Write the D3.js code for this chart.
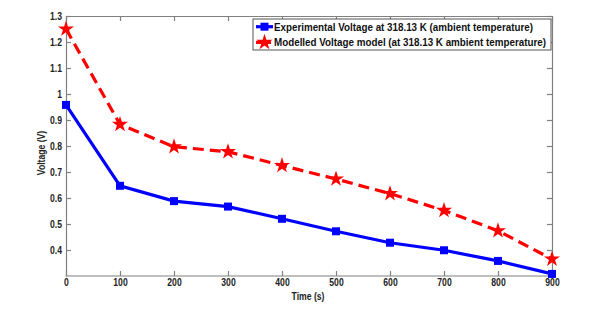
<!DOCTYPE html>
<html><head><meta charset="utf-8">
<script src="https://cdn.jsdelivr.net/npm/d3@7"></script>
<style>body{margin:0;background:#fff}svg{display:block}text{font-family:"Liberation Sans",Arial,sans-serif}</style>
</head><body><svg id="c" width="601" height="319"></svg>
<script>
const times = [0,100,200,300,400,500,600,700,800,900];
const experimental = [0.958,0.647,0.588,0.567,0.520,0.472,0.428,0.399,0.358,0.308];
const modelled = [1.25,0.883,0.797,0.778,0.725,0.673,0.617,0.552,0.474,0.365];
const xTicks = [0,100,200,300,400,500,600,700,800,900];
const yTicks = [0.4,0.5,0.6,0.7,0.8,0.9,1,1.1,1.2,1.3];
const seriesNames = ["Experimental Voltage at 318.13 K (ambient temperature)","Modelled Voltage model (at 318.13 K ambient temperature)"];

const svg = d3.select("#c");
const L=66,R=552,T=16,B=276;
const x = d3.scaleLinear().domain([0,900]).range([L,R]);
const y = d3.scaleLinear().domain([0.3,1.3]).range([B,T]);
const axisCol="#808080";
const FS="10.5px";

const g = svg.append("g");
const xb = g.append("g").attr("transform",`translate(0,${B})`).call(d3.axisBottom(x).tickValues(xTicks).tickSizeInner(-5).tickSizeOuter(0).tickPadding(3));
const xt = g.append("g").attr("transform",`translate(0,${T})`).call(d3.axisTop(x).tickValues(xTicks).tickSizeInner(-5).tickSizeOuter(0).tickFormat(""));
const yl = g.append("g").attr("transform",`translate(${L},0)`).call(d3.axisLeft(y).tickValues(yTicks).tickSizeInner(-5).tickSizeOuter(0).tickPadding(4).tickFormat(d=>d3.format("")(+d.toFixed(1))));
const yr = g.append("g").attr("transform",`translate(${R},0)`).call(d3.axisRight(y).tickValues(yTicks).tickSizeInner(-5).tickSizeOuter(0).tickFormat(""));
[xb,xt,yl,yr].forEach(a=>{a.selectAll("path,line").attr("stroke",axisCol).attr("stroke-width",1.2);
  a.selectAll("text").attr("fill","#222").attr("font-size",FS).attr("font-weight","bold").attr("class","cond");});
xb.select(".domain").attr("d",`M${L},0H${R}`);

const line = (vals)=>d3.line().x((d,i)=>x(times[i])).y(d=>y(d))(vals);
const plot = g.append("g");
plot.append("path").attr("d",line(modelled)).attr("fill","none").attr("stroke","#ff0000").attr("stroke-width",3.2).attr("stroke-dasharray","11,6");
plot.append("path").attr("d",line(experimental)).attr("fill","none").attr("stroke","#0000ff").attr("stroke-width",3.2);
const star = d3.symbol().type(d3.symbolStar).size(80);
plot.selectAll(".st").data(modelled).join("path").attr("d",star).attr("transform",(d,i)=>`translate(${x(times[i])},${y(d)})`).attr("fill","#ff0000");
plot.selectAll(".sq").data(experimental).join("rect").attr("x",(d,i)=>x(times[i])-4).attr("y",d=>y(d)-4).attr("width",8).attr("height",8).attr("fill","#0000ff");

svg.append("text").attr("class","cond").attr("x",308).attr("y",300).attr("text-anchor","middle").attr("font-size",FS).attr("font-weight","bold").attr("fill","#222").text("Time (s)");
svg.append("text").attr("class","cond").attr("transform","translate(45,153) rotate(-90)").attr("text-anchor","middle").attr("font-size",FS).attr("font-weight","bold").attr("fill","#222").text("Voltage (V)");

const lg = svg.append("g");
lg.append("rect").attr("x",253).attr("y",19).attr("width",298).attr("height",31).attr("fill","#fff").attr("stroke","#555").attr("stroke-width",1);
const rows=[26.7,42.3];
lg.append("line").attr("x1",256).attr("x2",273).attr("y1",rows[0]).attr("y2",rows[0]).attr("stroke","#0000ff").attr("stroke-width",3.2);
lg.append("rect").attr("x",260.5).attr("y",rows[0]-4).attr("width",8).attr("height",8).attr("fill","#0000ff");
lg.append("line").attr("x1",256).attr("x2",273).attr("y1",rows[1]).attr("y2",rows[1]).attr("stroke","#ff0000").attr("stroke-width",3.2).attr("stroke-dasharray","6,3");
lg.append("path").attr("d",star).attr("transform",`translate(264.5,${rows[1]})`).attr("fill","#ff0000");
const legW=[259,272];
seriesNames.forEach((s,i)=>lg.append("text").attr("x",274).attr("y",rows[i]+4).attr("font-size","11px").attr("font-weight","bold").attr("fill","#111").attr("textLength",legW[i]).attr("lengthAdjust","spacingAndGlyphs").text(s));

svg.selectAll("text.cond").each(function(){const w=this.getComputedTextLength();d3.select(this).attr("textLength",w*0.82).attr("lengthAdjust","spacingAndGlyphs");});
</script></body></html>
